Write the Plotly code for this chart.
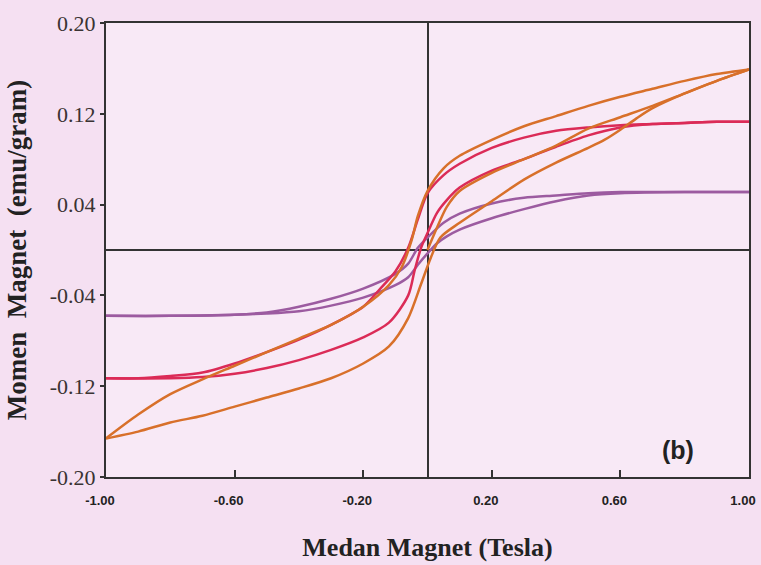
import plotly.graph_objects as go

# ---- data ----
# Orange sample
or_up_h = [1.0, 0.9, 0.8, 0.7, 0.6, 0.5, 0.4, 0.3, 0.2, 0.1, 0.05, 0.0, -0.03, -0.05, -0.08, -0.12, -0.2, -0.3, -0.4, -0.5, -0.6, -0.7, -0.8, -0.9, -1.0]
or_up_m = [0.159, 0.155, 0.149, 0.142, 0.135, 0.127, 0.118, 0.109, 0.097, 0.083, 0.072, 0.052, 0.030, 0.008, -0.015, -0.031, -0.050, -0.066, -0.078, -0.090, -0.102, -0.114, -0.127, -0.145, -0.166]
or_lo_h = [-1.0, -0.9, -0.8, -0.7, -0.6, -0.5, -0.4, -0.3, -0.2, -0.12, -0.06, -0.02, 0.01, 0.04, 0.1, 0.2, 0.3, 0.4, 0.5, 0.55, 0.6, 0.65, 0.7, 0.8, 0.9, 1.0]
or_lo_m = [-0.166, -0.160, -0.152, -0.146, -0.138, -0.130, -0.122, -0.113, -0.100, -0.085, -0.060, -0.030, -0.007, 0.011, 0.024, 0.043, 0.062, 0.077, 0.090, 0.097, 0.106, 0.116, 0.125, 0.138, 0.149, 0.159]
or_vg_h = [0.0, 0.03, 0.06, 0.1, 0.2, 0.3, 0.4, 0.5, 0.6, 0.7, 0.8, 0.9, 1.0]
or_vg_m = [0.0, 0.020, 0.038, 0.052, 0.068, 0.080, 0.092, 0.107, 0.117, 0.127, 0.138, 0.149, 0.159]

# Red sample
rd_up_h = [1.0, 0.9, 0.8, 0.7, 0.6, 0.5, 0.4, 0.3, 0.2, 0.1, 0.05, 0.0, -0.03, -0.06, -0.1, -0.15, -0.2, -0.3, -0.4, -0.5, -0.6, -0.7, -0.8, -0.9, -1.0]
rd_up_m = [0.113, 0.113, 0.112, 0.111, 0.110, 0.108, 0.105, 0.099, 0.090, 0.076, 0.066, 0.050, 0.027, 0.002, -0.019, -0.035, -0.050, -0.066, -0.079, -0.090, -0.100, -0.108, -0.111, -0.113, -0.113]
rd_lo_h = [-1.0, -0.8, -0.7, -0.6, -0.5, -0.4, -0.3, -0.2, -0.12, -0.06, -0.04, -0.02, 0.0, 0.03, 0.06, 0.1, 0.2, 0.3, 0.4, 0.5, 0.6, 0.7, 0.8, 0.9, 1.0]
rd_lo_m = [-0.113, -0.113, -0.112, -0.109, -0.104, -0.097, -0.088, -0.077, -0.064, -0.040, -0.018, 0.002, 0.015, 0.033, 0.044, 0.055, 0.070, 0.080, 0.091, 0.101, 0.108, 0.111, 0.112, 0.113, 0.113]

# Purple sample
pu_up_h = [1.0, 0.8, 0.6, 0.5, 0.4, 0.3, 0.2, 0.1, 0.05, 0.0, -0.03, -0.06, -0.1, -0.2, -0.3, -0.4, -0.5, -0.6, -0.8, -1.0]
pu_up_m = [0.051, 0.051, 0.051, 0.050, 0.048, 0.046, 0.041, 0.032, 0.024, 0.011, 0.002, -0.012, -0.021, -0.034, -0.043, -0.050, -0.055, -0.057, -0.058, -0.058]
pu_lo_h = [-1.0, -0.8, -0.6, -0.5, -0.4, -0.3, -0.2, -0.1, -0.06, -0.03, 0.0, 0.03, 0.06, 0.1, 0.2, 0.3, 0.4, 0.5, 0.6, 0.8, 1.0]
pu_lo_m = [-0.058, -0.058, -0.057, -0.056, -0.054, -0.049, -0.042, -0.031, -0.024, -0.013, -0.003, 0.006, 0.012, 0.018, 0.028, 0.036, 0.043, 0.048, 0.050, 0.051, 0.051]

x_ticks = [-1.0, -0.6, -0.2, 0.2, 0.6, 1.0]
x_tick_text = ["-1.00", "-0.60", "-0.20", "0.20", "0.60", "1.00"]
y_ticks = [0.20, 0.12, 0.04, -0.04, -0.12, -0.20]
y_tick_text = ["0.20", "0.12", "0.04", "-0.04", "-0.12", "-0.20"]

ORANGE = "#d8702a"
RED = "#db2b57"
PURPLE = "#9c5ba0"

fig = go.Figure()

def add_branch(h, m, color):
    fig.add_trace(go.Scatter(x=h, y=m, mode="lines", showlegend=False,
                             line=dict(color=color, width=2.5, shape="spline", smoothing=0.8),
                             hoverinfo="skip"))

add_branch(pu_up_h, pu_up_m, PURPLE)
add_branch(pu_lo_h, pu_lo_m, PURPLE)
add_branch(rd_up_h, rd_up_m, RED)
add_branch(rd_lo_h, rd_lo_m, RED)
add_branch(or_vg_h, or_vg_m, ORANGE)
add_branch(or_up_h, or_up_m, ORANGE)
add_branch(or_lo_h, or_lo_m, ORANGE)

fig.add_annotation(x=0.78, y=-0.176, text="<b>(b)</b>", showarrow=False,
                   font=dict(family="Liberation Sans, Arial", size=25, color="#222"))

fig.update_layout(
    width=761, height=565,
    margin=dict(l=106, r=12, t=23, b=88),
    paper_bgcolor="#f5e0f2",
    plot_bgcolor="#f8e9f6",
    xaxis=dict(range=[-1, 1], tickvals=x_ticks, ticktext=x_tick_text, automargin=False,
               ticklabeloverflow="allow", ticklabelshift=-6,
               ticks="inside", ticklen=7, tickcolor="#333", tickwidth=2, ticklabelstandoff=10,
               showgrid=False, zeroline=True, zerolinecolor="#333", zerolinewidth=1.6,
               showline=True, mirror=True, linecolor="#333", linewidth=2,
               tickfont=dict(family="Liberation Sans, Arial", size=13, color="#222", weight="bold"),
               title=dict(text="<b>Medan Magnet (Tesla)</b>", standoff=31,
                          font=dict(family="Liberation Serif, Times New Roman", size=26, color="#222"))),
    yaxis=dict(range=[-0.2, 0.2], tickvals=y_ticks, ticktext=y_tick_text, automargin=False,
               ticks="outside", ticklen=4, tickcolor="#333", tickwidth=2,
               showgrid=False, zeroline=True, zerolinecolor="#333", zerolinewidth=1.6,
               showline=True, mirror=True, linecolor="#333", linewidth=2,
               tickfont=dict(family="Liberation Serif, Times New Roman", size=22, color="#3a3333"),
               title=dict(text="<b>Momen  Magnet  (emu/gram)</b>", standoff=15,
                          font=dict(family="Liberation Serif, Times New Roman", size=27, color="#222"))),
)

fig.write_html("out.html", config={"displayModeBar": False},
               post_script="document.body.style.margin='0';")
